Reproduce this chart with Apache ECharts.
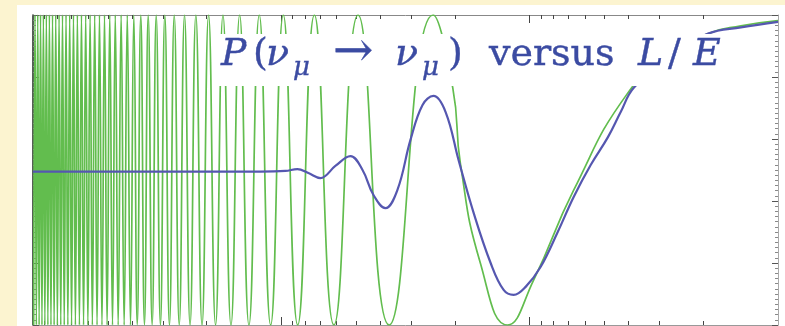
<!DOCTYPE html>
<html>
<head>
<meta charset="utf-8">
<script src="https://cdn.jsdelivr.net/npm/echarts@6/dist/echarts.min.js"></script>
<style>
  html, body { margin: 0; padding: 0; background: #ffffff; }
  #chart { width: 785px; height: 326px; }
</style>
</head>
<body>
<div id="chart"></div>
<script>
// Unsmeared survival probability: L/E (km/GeV) of its turning points
const peakLE = [2450, 4910, 7360, 9820, 12270, 14720, 17180, 19630, 22090, 24540,
  26990, 29450, 31900, 34360, 36810, 39260, 41720, 44170, 46630, 49080,
  51530, 53990, 56440, 58900, 61350, 63800, 66260, 68710, 71170, 73620,
  76070, 78530, 80980, 83440, 85890, 88340, 90800, 93250, 95710, 98160];
const troughLE = [3680, 6140, 8590, 11040, 13500, 15950, 18400, 20860, 23310, 25770,
  28220, 30680, 33130, 35580, 38040, 40490, 42950, 45400, 47850, 50310,
  52760, 55220, 57670, 60120, 62580, 65030, 67490, 69940, 72390, 74850,
  77300, 79760, 82210, 84660, 87120, 89570, 92030, 94480, 96930, 99390];
// last slow swing at small L/E
const tailLE = [2040, 1900, 1580, 1227, 964, 665, 403, 270, 191, 141, 100];
const tailP  = [0.765, 0.52, 0.20, 0.0, 0.145, 0.435, 0.748, 0.875, 0.94, 0.965, 0.982];

// Probability after averaging over the energy resolution
const smearLE = [100000, 53700, 21200, 12160, 9640, 8620, 7780, 6960, 6060, 5270,
  4710, 4260, 3810, 3410, 3020, 2700, 2440, 2180, 1930, 1680,
  1436, 1273, 1160, 1038, 904, 771, 665, 568, 484, 430,
  381, 270, 191, 141, 100];
const smearP = [0.495, 0.495, 0.495, 0.495, 0.497, 0.503, 0.490, 0.474, 0.513, 0.545,
  0.500, 0.420, 0.377, 0.435, 0.597, 0.710, 0.739, 0.687, 0.530, 0.361,
  0.200, 0.113, 0.097, 0.123, 0.187, 0.300, 0.413, 0.516, 0.606, 0.687,
  0.765, 0.870, 0.940, 0.960, 0.978];

// Axis tick positions (L/E)
const majorTicksLE = [1000, 10000];
const minorTicksLE = [200, 300, 400, 500, 600, 700, 800, 900,
  2000, 3000, 4000, 5000, 6000, 7000, 8000, 9000,
  20000, 30000, 40000, 50000, 60000, 70000, 80000, 90000];

const rawPoints = [];
peakLE.forEach(v => rawPoints.push([v, 1]));
troughLE.forEach(v => rawPoints.push([v, 0]));
tailLE.forEach((v, i) => rawPoints.push([v, tailP[i]]));
const oscData = rawPoints.sort((a, b) => b[0] - a[0]);
const smearData = smearLE.map((v, i) => [v, smearP[i]]);

const chart = echarts.init(document.getElementById('chart'), null, { renderer: 'canvas' });

function xAxisDef(pos, ticks, len, showLine, lineColor) {
  return {
    type: 'log', logBase: 10, min: 100, max: 100000, inverse: true,
    position: pos,
    axisLine: { show: showLine, onZero: false, lineStyle: { color: lineColor, width: 1 } },
    axisTick: { show: true, inside: true, length: len, customValues: ticks,
      lineStyle: { color: '#444', width: 1 } },
    axisLabel: { show: false },
    splitLine: { show: false },
    minorTick: { show: false }
  };
}

function yAxisDef(pos, lineColor, lineWidth) {
  return {
    type: 'value', min: 0, max: 1, interval: 0.2, position: pos,
    axisLine: { show: true, onZero: false, lineStyle: { color: lineColor, width: lineWidth } },
    axisTick: { show: true, inside: true, length: 6, lineStyle: { color: '#555' } },
    minorTick: { show: true, splitNumber: 12, length: 3, lineStyle: { color: '#888' } },
    axisLabel: { show: false },
    splitLine: { show: false }
  };
}

const titleFill = '#3b4ba2';
const serif = '"DejaVu Serif", "Liberation Serif", serif';
function tx(text, x, y, size, italic) {
  return {
    type: 'text', x: x, y: y, z: 101,
    style: {
      text: text,
      font: (italic ? 'italic ' : '') + size + 'px ' + serif,
      fill: titleFill,
      stroke: titleFill, lineWidth: 0.4,
      align: 'left', verticalAlign: 'middle',
      textAlign: 'left', textVerticalAlign: 'middle'
    }
  };
}

chart.setOption({
  backgroundColor: '#ffffff',
  animation: false,
  grid: { left: 33, right: 7, top: 15, bottom: 1, containLabel: false },
  xAxis: [
    xAxisDef('bottom', majorTicksLE, 8, true, '#999'),
    xAxisDef('bottom', minorTicksLE, 4, false, '#999'),
    xAxisDef('top', majorTicksLE, 8, true, '#888'),
    xAxisDef('top', minorTicksLE, 4, false, '#888')
  ],
  yAxis: [
    yAxisDef('left', '#1d2a1d', 1.5),
    yAxisDef('right', '#aaa', 1)
  ],
  series: [
    {
      type: 'line', name: 'oscillation', xAxisIndex: 0, yAxisIndex: 0,
      data: oscData, showSymbol: false, symbol: 'none', smooth: 0.5,
      lineStyle: { color: '#62bd4e', width: 1.7 }, z: 2
    },
    {
      type: 'line', name: 'smeared', xAxisIndex: 0, yAxisIndex: 0,
      data: smearData, showSymbol: false, symbol: 'none', smooth: 0.4,
      lineStyle: { color: '#5557b0', width: 2.2 }, z: 3
    }
  ],
  graphic: [
    { type: 'rect', shape: { x: 0, y: 0, width: 785, height: 5 }, style: { fill: '#fcf4d0' }, z: 0 },
    { type: 'rect', shape: { x: 0, y: 0, width: 17, height: 326 }, style: { fill: '#fcf4d0' }, z: 0 },
    { type: 'rect', shape: { x: 17, y: 5, width: 14, height: 8, r: [5, 0, 0, 0] }, style: { fill: '#ffffff' }, z: 1 },
    { type: 'rect', shape: { x: 214, y: 34, width: 531, height: 52 }, style: { fill: '#ffffff' }, z: 100 },
    tx('P', 221, 55, 38, true),
    tx('(', 253, 55, 38, false),
    tx('\u03bd', 266, 55, 38, true),
    tx('\u03bc', 293, 68, 26, true),
    tx('\u2192', 333, 54, 48, false),
    tx('\u03bd', 395, 55, 38, true),
    tx('\u03bc', 422, 68, 26, true),
    tx(')', 448, 55, 38, false),
    tx('versus', 489, 55, 38, false),
    tx('L', 638, 55, 38, true),
    tx('/', 668, 55, 38, false),
    tx('E', 693, 55, 38, true)
  ]
});
</script>
</body>
</html>
